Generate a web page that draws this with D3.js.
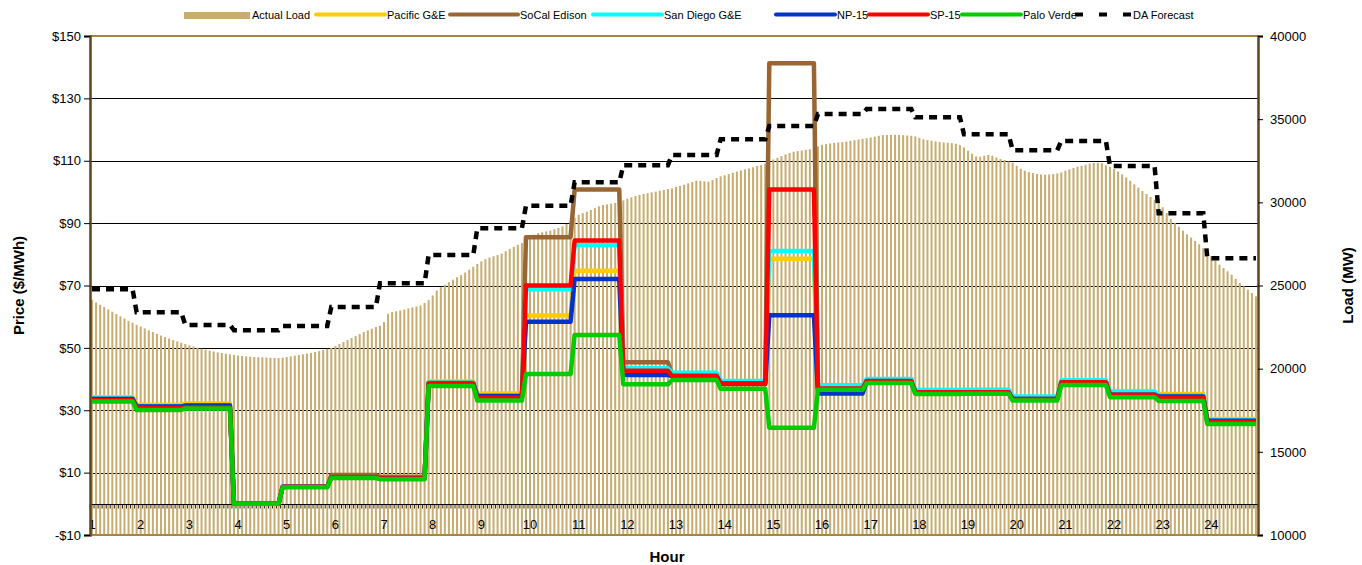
<!DOCTYPE html>
<html>
<head>
<script type="text/javascript" src="https://cdn.jsdelivr.net/npm/d3@7"></script>
<style>
body {
  margin: 0;
  padding: 0;
  background: #fff;
}
text {
  font-family: "Liberation Sans", Arial, sans-serif;
}
.grid line {
  stroke: #000;
  stroke-width: 1px;
}
</style>
</head>
<body>
<svg></svg>

<script>
// hour labels on the category axis
var hours = ['1','2','3','4','5','6','7','8','9','10','11','12','13','14','15','16','17','18','19','20','21','22','23','24'];

// actual load (MW), one value per 5 minutes, 12 per hour
var actualLoad = [
  24150, 23980, 23840, 23700, 23560, 23420, 23280, 23140, 23010, 22880, 22760, 22640,
  22530, 22420, 22310, 22200, 22090, 21990, 21900, 21810, 21720, 21640, 21560, 21480,
  21400, 21330, 21260, 21200, 21140, 21080, 21030, 20980, 20940, 20900, 20860, 20820,
  20780, 20760, 20740, 20720, 20700, 20690, 20680, 20670, 20650, 20640, 20640, 20660,
  20700, 20740, 20780, 20820, 20860, 20900, 20950, 21000, 21060, 21120, 21190, 21250,
  21360, 21480, 21600, 21720, 21840, 21960, 22080, 22200, 22300, 22400, 22500, 22580,
  22800, 23300, 23400, 23450, 23500, 23550, 23620, 23680, 23740, 23800, 23950, 24120,
  24400, 24700, 24900, 25050, 25200, 25350, 25500, 25620, 25780, 25950, 26120, 26300,
  26450, 26580, 26680, 26760, 26830, 26920, 27060, 27200, 27320, 27440, 27550, 27700,
  27880, 28050, 28150, 28200, 28250, 28300, 28380, 28460, 28560, 28700, 28880, 29080,
  29250, 29350, 29440, 29540, 29650, 29760, 29840, 29880, 29920, 29960, 30020, 30120,
  30220, 30300, 30380, 30450, 30500, 30550, 30600, 30640, 30700, 30740, 30800, 30840,
  30930, 30990, 31060, 31140, 31220, 31300, 31290, 31260, 31240, 31340, 31460, 31560,
  31620, 31700, 31780, 31850, 31920, 31980, 32040, 32110, 32180, 32240, 32330, 32450,
  32580, 32680, 32780, 32880, 32970, 33040, 33080, 33120, 33160, 33190, 33260, 33360,
  33460, 33500, 33540, 33570, 33600, 33620, 33660, 33700, 33740, 33780, 33820, 33860,
  33900, 33950, 34000, 34040, 34050, 34060, 34060, 34050, 34040, 34020, 34000, 33960,
  33880, 33790, 33740, 33700, 33660, 33630, 33600, 33580, 33560, 33520, 33440, 33300,
  33100, 32920, 32760, 32740, 32800, 32850, 32800, 32700, 32600, 32540, 32460, 32380,
  32200, 32020, 31900, 31820, 31760, 31700, 31680, 31660, 31680, 31700, 31740, 31800,
  31900, 31980, 32060, 32140, 32200, 32260, 32330, 32370, 32380, 32360, 32220, 32140,
  32000, 31850, 31680, 31500, 31300, 31080, 30880, 30680, 30500, 30320, 30160, 30000,
  29700, 29350, 29000, 28750, 28530, 28300, 28080, 27880, 27680, 27480, 27250, 27050,
  26750, 26500, 26250, 26050, 25850, 25650, 25400, 25150, 24950, 24750, 24550, 24350
];

// hourly prices ($/MWh)
var pacificGE   = [34.2, 31.8, 32.2, 0, 5.5, 9.0, 8.6, 39.2, 35.4, 60.4, 74.7, 42.5, 41.5, 39.0, 78.6, 37.5, 39.6, 36.2, 36.2, 34.0, 39.0, 35.5, 35.2, 27.2];
var socalEdison = [33.8, 31.2, 31.5, 0, 5.5, 9.2, 8.6, 38.8, 34.8, 85.5, 100.8, 45.4, 41.5, 38.8, 141.3, 37.0, 39.5, 36.0, 36.0, 33.8, 39.0, 35.2, 34.6, 26.8];
var sanDiegoGE  = [33.8, 31.2, 31.5, 0, 5.5, 8.5, 8.1, 38.8, 34.8, 68.8, 83.0, 43.5, 42.0, 39.4, 81.1, 38.0, 40.0, 36.5, 36.6, 34.4, 39.6, 36.0, 34.6, 26.8];
var np15        = [33.6, 31.2, 31.5, 0, 5.5, 8.5, 8.1, 38.6, 34.6, 58.4, 72.1, 41.3, 41.0, 38.6, 60.5, 35.4, 39.2, 35.8, 35.8, 33.6, 38.8, 35.0, 34.4, 26.6];
var sp15        = [33.2, 30.8, 31.0, 0, 5.5, 8.5, 8.1, 38.4, 34.0, 70.0, 84.4, 42.7, 41.0, 38.4, 100.8, 37.0, 39.4, 35.8, 35.8, 33.6, 39.0, 35.0, 34.0, 26.3];
var paloVerde   = [32.8, 30.1, 30.6, 0, 5.3, 8.3, 7.9, 37.8, 33.1, 41.6, 54.1, 38.3, 39.7, 36.9, 24.4, 36.6, 38.7, 35.2, 35.3, 33.1, 38.1, 34.2, 33.0, 25.6];

// day-ahead load forecast (MW), hourly
var daForecast = [24770, 23390, 22630, 22310, 22570, 23710, 25130, 26830, 28440, 29800, 31200, 32230,
  32850, 33790, 34590, 35310, 35610, 35110, 34090, 33130, 33690, 32180, 29340, 26640];

var priceTicks = [-10, 10, 30, 50, 70, 90, 110, 130, 150];
var loadTicks = [10000, 15000, 20000, 25000, 30000, 35000, 40000];

var series = [
  { name: 'Pacific G&E', values: pacificGE, color: '#ffcc00' },
  { name: 'SoCal Edison', values: socalEdison, color: '#996633' },
  { name: 'San Diego G&E', values: sanDiegoGE, color: '#00ffff' },
  { name: 'NP-15', values: np15, color: '#0033cc' },
  { name: 'SP-15', values: sp15, color: '#ff0000' },
  { name: 'Palo Verde', values: paloVerde, color: '#00cc00' }
];

var width = 1362,
  height = 565,
  plotLeft = 90,
  plotRight = 1258,
  plotTop = 36,
  plotBottom = 535;

var svg = d3.select('svg')
  .attr('width', width)
  .attr('height', height);

var cats = d3.range(actualLoad.length);

var x = d3.scaleBand()
  .domain(cats)
  .range([plotLeft, plotRight])
  .paddingInner(0.5)
  .paddingOuter(0.25);

var step = x.step();

function cx(i) {
  return plotLeft + (i + 0.5) * step;
}

var yPrice = d3.scaleLinear().domain([-10, 150]).range([plotBottom, plotTop]);
var yLoad = d3.scaleLinear().domain([10000, 40000]).range([plotBottom, plotTop]);

// hourly value for a 5-minute category (step lands one slot before the hour)
function hourOf(i) {
  return Math.min(hours.length - 1, Math.floor((i + 1) / 12));
}

// gridlines
svg.append('g')
  .attr('class', 'grid')
  .selectAll('line')
  .data(priceTicks.filter(function(d) { return d > -10 && d < 150; }))
  .enter().append('line')
  .attr('x1', plotLeft)
  .attr('x2', plotRight)
  .attr('y1', function(d) { return Math.round(yPrice(d)) + 0.5; })
  .attr('y2', function(d) { return Math.round(yPrice(d)) + 0.5; });

// load bars
svg.append('g')
  .selectAll('rect')
  .data(actualLoad)
  .enter().append('rect')
  .attr('x', function(d, i) { return x(i); })
  .attr('width', x.bandwidth())
  .attr('y', function(d) { return yLoad(d); })
  .attr('height', function(d) { return plotBottom - yLoad(d); })
  .attr('fill', '#c9ad70');

// category axis at price 0
var zeroY = Math.round(yPrice(0)) + 0.5;
svg.append('line')
  .attr('x1', plotLeft).attr('x2', plotRight)
  .attr('y1', zeroY).attr('y2', zeroY)
  .attr('stroke', '#000').attr('stroke-width', 1.2);

svg.append('g')
  .selectAll('line')
  .data(d3.range(actualLoad.length + 1))
  .enter().append('line')
  .attr('x1', function(d) { return plotLeft + d * step; })
  .attr('x2', function(d) { return plotLeft + d * step; })
  .attr('y1', zeroY)
  .attr('y2', zeroY + 4)
  .attr('stroke', '#222')
  .attr('stroke-width', 1);

svg.append('g')
  .selectAll('text')
  .data(hours)
  .enter().append('text')
  .attr('x', function(d, i) { return cx(i * 12); })
  .attr('y', 529)
  .attr('text-anchor', 'middle')
  .attr('font-size', '13px')
  .attr('fill', '#000')
  .text(function(d) { return d; });

// price lines
var line = d3.line()
  .x(function(d) { return cx(d.i); })
  .y(function(d) { return d.y; });

series.forEach(function(s) {
  var pts = cats.map(function(i) {
    return { i: i, y: yPrice(s.values[hourOf(i)]) };
  });
  svg.append('path')
    .datum(pts)
    .attr('d', line)
    .attr('fill', 'none')
    .attr('stroke', s.color)
    .attr('stroke-width', 4.5)
    .attr('stroke-linejoin', 'round');
});

// DA forecast
var daPts = cats.map(function(i) {
  return { i: i, y: yLoad(daForecast[hourOf(i)]) };
});
svg.append('path')
  .datum(daPts)
  .attr('d', line)
  .attr('fill', 'none')
  .attr('stroke', '#000')
  .attr('stroke-width', 4.5)
  .attr('stroke-dasharray', '8,6');

// plot border
svg.append('line')
  .attr('x1', plotLeft).attr('x2', plotRight).attr('y1', plotTop).attr('y2', plotTop)
  .attr('stroke', '#a4873f').attr('stroke-width', 2);
svg.append('line')
  .attr('x1', plotLeft).attr('x2', plotRight).attr('y1', plotBottom).attr('y2', plotBottom)
  .attr('stroke', '#a4873f').attr('stroke-width', 2);

// left axis
var leftAxis = d3.axisLeft(yPrice)
  .tickValues(priceTicks)
  .tickSize(6)
  .tickFormat(function(d) { return d < 0 ? '-$' + Math.abs(d) : '$' + d; });

var gl = svg.append('g')
  .attr('transform', 'translate(' + plotLeft + ',0)')
  .call(leftAxis);
gl.select('.domain').attr('stroke', '#5c4420').attr('stroke-width', 2.5);
gl.selectAll('.tick line').attr('stroke', '#000');
gl.selectAll('.tick text')
  .attr('font-size', '13px')
  .attr('font-family', '"Liberation Sans", Arial, sans-serif')
  .attr('fill', '#000');

// right axis
var rightAxis = d3.axisRight(yLoad)
  .tickValues(loadTicks)
  .tickSize(5)
  .tickFormat(d3.format('d'));

var gr = svg.append('g')
  .attr('transform', 'translate(' + plotRight + ',0)')
  .call(rightAxis);
gr.select('.domain').attr('stroke', '#5c4420').attr('stroke-width', 2.5);
gr.selectAll('.tick line').attr('stroke', '#000');
gr.selectAll('.tick text')
  .attr('x', 12)
  .attr('font-size', '13px')
  .attr('font-family', '"Liberation Sans", Arial, sans-serif')
  .attr('fill', '#000');

// axis titles
svg.append('text')
  .attr('transform', 'translate(24,' + ((plotTop + plotBottom) / 2) + ') rotate(-90)')
  .attr('text-anchor', 'middle')
  .attr('font-size', '15px')
  .attr('font-weight', 'bold')
  .text('Price ($/MWh)');

svg.append('text')
  .attr('transform', 'translate(1353,' + ((plotTop + plotBottom) / 2) + ') rotate(-90)')
  .attr('text-anchor', 'middle')
  .attr('font-size', '15px')
  .attr('font-weight', 'bold')
  .text('Load (MW)');

svg.append('text')
  .attr('x', 667)
  .attr('y', 562)
  .attr('text-anchor', 'middle')
  .attr('font-size', '15px')
  .attr('font-weight', 'bold')
  .text('Hour');

// legend
var legendItems = [
  { name: 'Actual Load', kind: 'bar', color: '#c9ad70', x: 184, w: 66 },
  { name: 'Pacific G&E', kind: 'line', color: '#ffcc00', x: 316, w: 69 },
  { name: 'SoCal Edison', kind: 'line', color: '#996633', x: 450, w: 68 },
  { name: 'San Diego G&E', kind: 'line', color: '#00ffff', x: 593, w: 69 },
  { name: 'NP-15', kind: 'line', color: '#0033cc', x: 776, w: 59 },
  { name: 'SP-15', kind: 'line', color: '#ff0000', x: 869, w: 59 },
  { name: 'Palo Verde', kind: 'line', color: '#00cc00', x: 962, w: 59 },
  { name: 'DA Forecast', kind: 'dash', color: '#000', x: 1075, w: 56 }
];

var lg = svg.append('g');
legendItems.forEach(function(d) {
  if (d.kind === 'bar') {
    lg.append('rect')
      .attr('x', d.x).attr('y', 12)
      .attr('width', d.w).attr('height', 7)
      .attr('fill', d.color);
  } else {
    lg.append('line')
      .attr('x1', d.x).attr('x2', d.x + d.w)
      .attr('y1', 14.5).attr('y2', 14.5)
      .attr('stroke', d.color)
      .attr('stroke-width', 4)
      .attr('stroke-linecap', d.kind === 'dash' ? 'butt' : 'round')
      .attr('stroke-dasharray', d.kind === 'dash' ? '8,16' : null);
  }
  lg.append('text')
    .attr('x', d.x + d.w + 2)
    .attr('y', 19)
    .attr('font-size', '11px')
    .attr('fill', '#000')
    .text(d.name);
});
</script>
</body>
</html>
